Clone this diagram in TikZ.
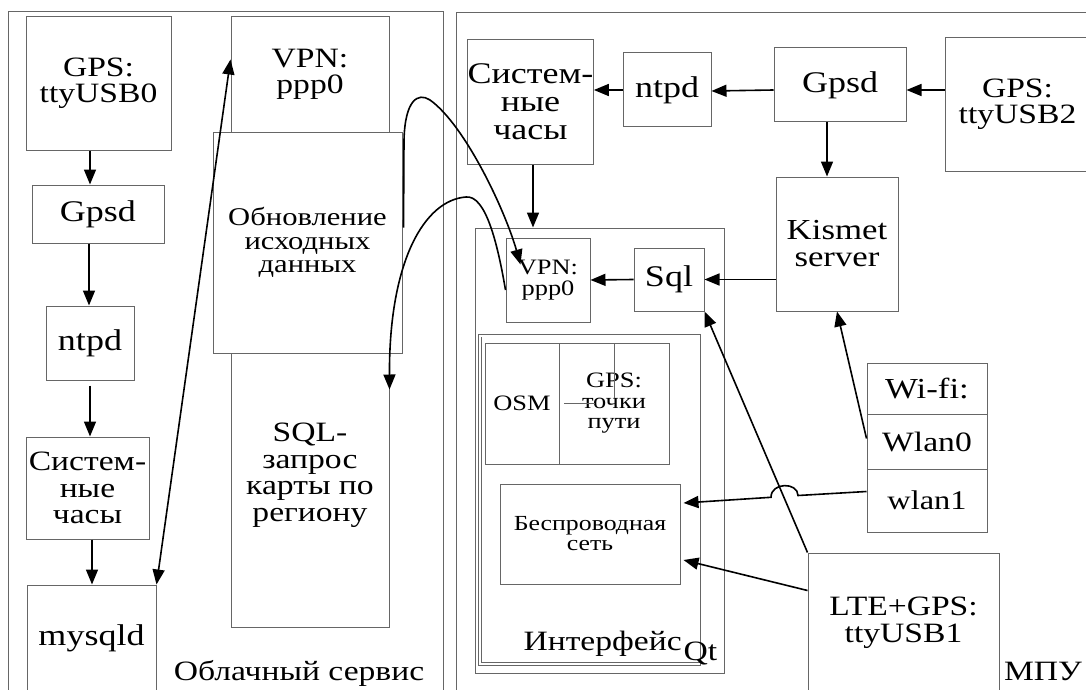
\documentclass[tikz,border=0pt]{standalone}
\usepackage{fontspec}
\setmainfont{Liberation Serif}[FakeStretch=1.2]
\usetikzlibrary{arrows.meta,calc}
\newcommand\mybox[7]{\node[bx,#7,minimum width={(#4)-(#2)},minimum height={(#5)-(#3)}] (#1) at ({((#2)+(#4))/2},{((#3)+(#5))/2}) {#6};}
\begin{document}
\begin{tikzpicture}[x=1pt,y=-1pt,
  bx/.style={draw=black!60, line width=1pt, inner sep=0pt, align=center},
  fr/.style={draw=black!60, line width=1pt},
  arr/.style={-{Triangle[length=15pt,width=12pt]}, line width=1.6pt, draw=black},
  darr/.style={{Triangle[length=15pt,width=12pt]}-{Triangle[length=15pt,width=12pt]}, line width=1.6pt, draw=black},
  f30/.style={font=\fontsize{30}{28}\selectfont},
  f28/.style={font=\fontsize{28}{26.5}\selectfont},
  f26/.style={font=\fontsize{25.5}{23.5}\selectfont},
  f22/.style={font=\fontsize{22}{20.5}\selectfont},
  f21/.style={font=\fontsize{21.5}{20}\selectfont},
  ]
\useasboundingbox (0,0) rectangle (1086,690);
\clip (0,0) rectangle (1086,690);
\fill[white] (0,0) rectangle (1086,690);
% frames
\draw[fr] (8,12) rectangle (443,700);
\draw[fr] (456,13) rectangle (1100,700);
% left: cloud service
\mybox{gps0}{26}{17}{171}{150}{GPS:\\ttyUSB0}{f28}
\mybox{gpsd0}{32}{185}{164}{243}{Gpsd}{f30}
\mybox{ntpd0}{46}{306}{134}{380}{ntpd}{f30}
\mybox{clock0}{26}{437}{149}{539}{Систем-\\ные\\часы}{f28}
\mybox{mysql}{27}{585}{156}{692}{mysqld}{f30}
\mybox{vpn0}{231}{17}{389}{132}{VPN:\\ppp0}{f28}
\mybox{upd}{213}{132}{402}{353}{Обновление\\исходных\\данных}{f26}
\mybox{sqlq}{231}{353}{389}{627}{}{}
\node[f28, align=center] (sqlqt) at ($(sqlq.center)+(0,-15)$) {SQL-\\запрос\\карты по\\региону};
\node[f28, anchor=base] (cloudlbl) at (299,680) {Облачный сервис};
% right: MPU
\mybox{clock1}{469}{40}{592}{164}{Систем-\\ные\\часы}{f30}
\mybox{ntpd1}{623}{53}{711}{127}{ntpd}{f30}
\mybox{gpsd1}{774}{48}{906}{122}{Gpsd}{f30}
\mybox{gps2}{945}{38}{1090}{171}{GPS:\\ttyUSB2}{f28}
\mybox{kismet}{776}{177}{898}{311}{Kismet\\server}{font=\fontsize{29}{27}\selectfont}
\mybox{qtc}{475}{228}{724}{673}{}{}
\mybox{vpn1}{506}{238}{590}{322}{VPN:\\ppp0}{f22}
\mybox{sql}{634}{248}{704}{311}{Sql}{f30}
\draw[fr] (478,334) rectangle (700,665);
\draw[fr] (481,337) -- (481,662) -- (700,662);
\mybox{osm}{485}{343}{559}{464}{OSM}{f22}
\mybox{gpsp}{559}{343}{669}{464}{GPS:\\точки\\пути}{f22}
\draw[fr] (614,343) -- (614,398);
\draw[fr] (564,403) -- (595,403);
\mybox{bw}{500}{484}{680}{584}{Беспроводная\\сеть}{f21}
\node[f28, anchor=base west] (intf) at (520,650) {Интерфейс};
\node[f28, anchor=base west] (qtl) at (680,660) {Qt};
\mybox{wifi}{867}{363}{987}{414}{Wi-fi:}{font=\fontsize{29}{26}\selectfont}
\mybox{wlan0}{867}{414}{987}{469}{Wlan0}{f28}
\mybox{wlan1}{867}{469}{987}{532}{wlan1}{font=\fontsize{27}{25}\selectfont}
\mybox{lte}{808}{553}{999}{692}{LTE+GPS:\\ttyUSB1}{f28}
\node[f28, anchor=base] (mpu) at (1043,680) {МПУ};
% left arrows
\draw[arr] (90,0 |- gps0.south) -- (90,0 |- gpsd0.north);
\draw[arr] (89,0 |- gpsd0.south) -- (89,0 |- ntpd0.north);
\draw[arr] ($(90,0 |- ntpd0.south)+(0,5)$) -- (90,0 |- clock0.north);
\draw[arr] (92,0 |- clock0.south) -- (92,0 |- mysql.north);
\draw[darr] (mysql.north east) -- ($(vpn0.north west)+(0,43)$);
% curves
\draw[arr] ($(upd.east)+(1,-15)$) -- (404,140) .. controls (405,100) and (418,92) .. (430,100)
   .. controls (465,125) and (505,210) .. ($(vpn1.north west)+(15,27)$);
\draw[arr] ($(vpn1.west)+(0,10)$) .. controls (497,240) and (485,195) .. (466,197)
   .. controls (425,200) and (389,260) .. ($(sqlq.north east)+(0,37)$);
% right arrows
\draw[arr] (gps2.west |- 0,90) -- (gpsd1.east |- 0,90);
\draw[arr] (gpsd1.west |- 0,90) -- (ntpd1.east |- 0,91);
\draw[arr] (ntpd1.west) -- (clock1.east |- ntpd1.west);
\draw[arr] (827,0 |- gpsd1.south) -- (827,0 |- kismet.north);
\draw[arr] (533,0 |- clock1.south) -- (533,0 |- qtc.north);
\draw[arr] (kismet.west |- sql.east) -- (sql.east);
\draw[arr] (sql.west) -- (vpn1.east);
\draw[arr] (lte.north west) -- (sql.south east);
\draw[arr] ($(wlan0.west)+(0,-3)$) -- (kismet.south);
\draw[arr] ($(wlan1.west)+(0,-9)$) -- (798,495.5) .. controls (798,482) and (771,482) .. (771,497.3) -- ($(bw.east)+(3,-31)$);
\draw[arr] ($(lte.north west)+(0,38)$) -- ($(bw.east)+(3,26)$);
\end{tikzpicture}
\end{document}
